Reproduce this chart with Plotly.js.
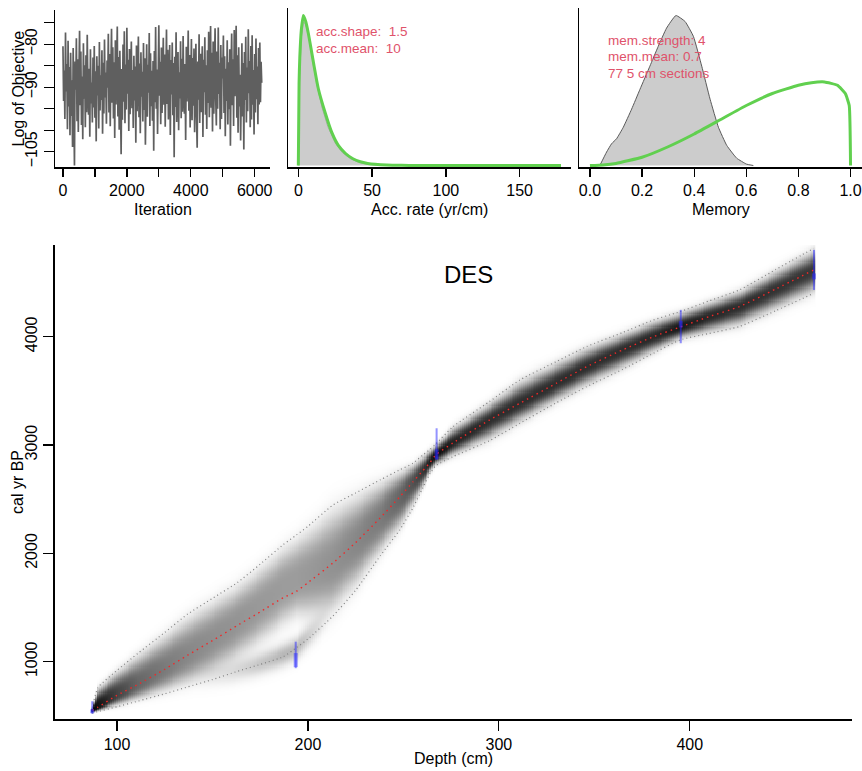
<!DOCTYPE html>
<html><head><meta charset="utf-8">
<script src="https://cdn.plot.ly/plotly-3.0.1.min.js"></script>
<style>html,body{margin:0;padding:0;background:#fff}#chart{width:862px;height:771px}</style>
</head><body><div id="chart"></div>
<script>
// ---------- Panel 1: MCMC trace (log of objective), thinned every 20 iterations ----------
const iterStep = 20;
const logObjective = [
-80.5,-93.2,-86.1,-97.4,-77.3,-91.0,-84.6,-99.8,-79.2,-94.5,
-85.3,-101.2,-82.0,-96.7,-88.4,-103.9,-80.9,-95.1,-108.2,-84.0,
-90.6,-78.6,-97.9,-83.5,-100.4,-86.8,-76.9,-94.2,-81.7,-98.8,
-87.5,-102.1,-79.8,-92.7,-84.9,-99.3,-82.6,-95.8,-77.8,-90.3,
-96.4,-85.7,-101.5,-81.2,-93.8,-88.9,-98.2,-83.1,-94.7,-80.4,
-97.1,-86.3,-102.6,-82.8,-91.9,-85.0,-99.6,-79.5,-95.4,-87.2,
-93.0,-81.4,-100.8,-84.3,-96.1,-78.9,-92.4,-86.6,-98.5,-83.8,
-90.1,-77.6,-95.9,-82.3,-99.1,-85.5,-76.4,-93.6,-80.7,-97.3,
-84.2,-101.8,-79.1,-94.0,-86.9,-75.9,-96.8,-83.0,-99.9,-81.5,
-92.8,-105.6,-85.8,-97.6,-80.1,-93.4,-77.0,-98.4,-84.7,-95.2,
-76.2,-91.5,-83.6,-100.2,-81.1,-96.3,-87.8,-79.4,-94.9,-86.0,
-99.5,-82.7,-93.1,-85.2,-102.9,-80.3,-95.6,-88.1,-78.2,-97.0,
-84.5,-100.7,-81.9,-92.2,-86.4,-98.0,-79.7,-95.3,-83.3,-103.4,
-87.0,-80.0,-96.9,-84.8,-91.3,-77.4,-99.0,-82.1,-94.4,-86.2,
-97.8,-83.9,-104.8,-81.6,-93.5,-76.0,-95.0,-85.9,-100.9,-79.0,
-75.6,-92.0,-84.1,-98.6,-80.8,-96.0,-87.3,-78.5,-94.1,-82.4,
-99.2,-85.4,-76.6,-93.9,-81.3,-97.5,-86.7,-80.2,-101.1,-83.7,
-91.7,-79.6,-96.5,-84.4,-106.3,-82.9,-94.6,-77.2,-98.1,-85.6,
-81.8,-100.0,-86.5,-92.6,-79.3,-97.2,-83.4,-95.7,-78.1,-90.8,
-96.2,-84.6,-102.3,-80.6,-93.3,-87.6,-76.8,-95.5,-82.5,-99.4,
-85.1,-78.8,-97.7,-83.2,-94.3,-81.0,-100.5,-86.1,-79.9,-96.6,
-104.1,-84.0,-92.9,-77.7,-98.3,-82.2,-95.8,-86.4,-80.5,-101.6,
-83.6,-91.2,-78.4,-96.4,-84.9,-99.7,-81.4,-93.7,-77.1,-97.0,
-86.8,-75.8,-94.8,-82.0,-100.3,-79.4,-96.2,-85.3,-76.3,-92.5,
-98.9,-81.7,-95.0,-76.1,-91.6,-84.3,-99.8,-80.2,-97.4,-83.1,
-88.0,-78.0,-96.0,-82.8,-101.4,-85.7,-93.2,-79.1,-98.7,-84.2,
-95.1,-81.2,-103.6,-86.3,-77.5,-94.2,-83.5,-99.0,-76.7,-92.1,
-85.9,-75.7,-97.1,-82.6,-100.6,-80.7,-94.5,-87.1,-102.4,-83.0,
-79.8,-96.8,-84.4,-104.5,-81.8,-93.0,-78.3,-98.2,-85.4,-95.6,
-76.5,-91.4,-83.9,-99.3,-80.4,-97.5,-77.9,-94.1,-86.0,-101.0,
-82.3,-95.9,-78.7,-92.8,-85.2,-98.6,-80.9,-94.0,-79.6,-93.5,
-84.1,-89.0
];
const iterTicks = [0,1000,2000,3000,4000,5000,6000];
const iterTickText = ['0','','2000','','4000','','6000'];
const objTicks = [-75,-80,-85,-90,-95,-100,-105];
const objTickText = ['','\u221280','','\u221290','','','\u2212105'];

// ---------- Panel 2: accumulation rate (prior green, posterior grey) ----------
const accRatePrior = [0,0.5,1,2,3.4,5,6.8,10.2,13.6,18.1,22.6,27.1,32,37,42,47,52,60,70,80,100,125,150,178];
const accPriorDens = [0,0.55,0.72,0.9,1.0,0.96,0.88,0.69,0.51,0.355,0.222,0.134,0.08,0.045,0.025,0.014,0.008,0.003,0.001,0,0,0,0,0];
const accRatePost = [0,1,2,3.5,5,7,10,13,16,20,25,30,35,40,45,50,55];
const accPostDens = [0,0.6,0.85,0.96,0.94,0.86,0.68,0.52,0.39,0.26,0.15,0.085,0.047,0.025,0.012,0.005,0];
const accTicks = [0,50,100,150];

// ---------- Panel 3: memory (prior green, posterior grey) ----------
const memPrior = [0,0.05,0.1,0.2,0.3,0.4,0.5,0.6,0.7,0.8,0.85,0.9,0.95,0.98,0.995,1.0];
const memPriorDens = [0,0.004,0.014,0.055,0.125,0.21,0.305,0.40,0.48,0.535,0.552,0.557,0.535,0.48,0.40,0];
const memPost = [0.038,0.064,0.083,0.102,0.128,0.16,0.192,0.23,0.262,0.294,0.33,0.365,0.397,0.429,0.461,0.493,0.525,0.563,0.601,0.627];
const memPostDens = [0,0.09,0.145,0.178,0.255,0.376,0.508,0.662,0.794,0.916,1.0,0.96,0.861,0.662,0.442,0.255,0.134,0.049,0.009,0];
const memTicks = [0,0.2,0.4,0.6,0.8,1.0];
const memTickText = ['0.0','0.2','0.4','0.6','0.8','1.0'];

// ---------- Main: age-depth model ----------
const modelDepth = [87,90,100,111,125,137,150,163,175,187,194,200,213,225,238,248,255,260,264,267,276,295,311,330,346,365,381,395,410,426,445,465];
const meanAge   = [550,580,690,790,930,1060,1195,1335,1460,1590,1650,1730,1910,2100,2330,2520,2660,2760,2840,2910,3020,3230,3386,3570,3724,3880,4001,4090,4185,4278,4440,4617];
const upperAge  = [575,760,920,1078,1270,1440,1585,1730,1900,2080,2170,2250,2445,2558,2680,2770,2832,2905,2960,3010,3170,3400,3601,3770,3909,4040,4155,4232,4330,4432,4620,4817];
const lowerAge  = [525,540,584,636,704,767,835,911,975,1045,1130,1210,1420,1660,1980,2215,2420,2600,2740,2810,2893,3040,3201,3390,3539,3700,3848,3971,4030,4094,4240,4401];
const darkness  = [1.0,0.93,0.74,0.6,0.52,0.47,0.44,0.42,0.40,0.39,0.39,0.40,0.43,0.47,0.52,0.6,0.68,0.78,0.88,0.95,0.86,0.82,0.82,0.82,0.82,0.82,0.84,0.9,0.84,0.82,0.8,0.78];
const profilePow = [3,3,3,3,3,3,3,3,3,3,3,3,3,3,3,3,2.9,2.7,2.5,2.4,2.4,2.4,2.4,2.4,2.4,2.4,2.4,2.4,2.4,2.4,2.4,2.4];
const profileDiv = [1.6,1.6,1.6,1.6,1.6,1.6,1.6,1.6,1.6,1.6,1.6,1.6,1.6,1.6,1.6,1.6,1.65,1.7,1.75,1.8,1.8,1.8,1.8,1.8,1.8,1.8,1.8,1.8,1.8,1.8,1.8,1.8];
// secondary (younger) mode near the 193 cm date
const altDepth  = [140,160,175,187,194,201,212];
const altAge    = [820,900,980,1060,1120,1250,1440];
const altDark   = [0,0.12,0.22,0.28,0.28,0.18,0];
const altSd     = [70,70,70,70,70,75,80];
const mainShift = [0,20,60,100,110,70,0];
const lowShrink = [1,0.85,0.7,0.6,0.6,0.75,1];
// dated levels (calibrated ranges)
const dateDepth = [87,193.6,267.4,395.3,465.1];
const dateMin   = [520,940,2862,3940,4432];
const dateMax   = [635,1185,3155,4248,4802];
const densMin   = [525,950,2870,4085,4530];
const densMax   = [560,1080,2960,4145,4585];
const depthTicks = [100,200,300,400];
const ageTicks = [1000,2000,3000,4000];

// ---------- helpers ----------
const W = 862, H = 771;
const FONT = 'Liberation Sans, Arimo, Arial, sans-serif';
const px = v => v / W;
const py = v => 1 - v / H;
function interp(xs, ys, x) {
  if (x <= xs[0]) return ys[0];
  const n = xs.length;
  if (x >= xs[n-1]) return ys[n-1];
  for (let i = 1; i < n; i++) {
    if (x <= xs[i]) { const t = (x - xs[i-1]) / (xs[i] - xs[i-1]); return ys[i-1] + t * (ys[i] - ys[i-1]); }
  }
}

// grey-scale grid built from the model arrays
const gridX = [], gridY = [], gridZ = [];
for (let d = modelDepth[0]; d <= modelDepth[modelDepth.length-1]; d += 1) gridX.push(d);
for (let a = 450; a <= 4900; a += 10) gridY.push(a);
for (let j = 0; j < gridY.length; j++) {
  const a = gridY[j], row = [];
  for (let i = 0; i < gridX.length; i++) {
    const d = gridX[i];
    const m = interp(modelDepth, meanAge, d) + interp(altDepth, mainShift, d);
    const up = interp(modelDepth, upperAge, d), lo = interp(modelDepth, lowerAge, d);
    const dk = interp(modelDepth, darkness, d);
    const pw = interp(modelDepth, profilePow, d), dv = interp(modelDepth, profileDiv, d);
    const sUp = Math.max((up - m) / dv, 8);
    const sLo = Math.max((m - lo) / dv * interp(altDepth, lowShrink, d), 8);
    const t = a >= m ? (a - m) / sUp : (m - a) / sLo;
    let z = dk * Math.exp(-0.5 * Math.pow(t, pw));
    const c2 = interp(altDepth, altAge, d), s2 = interp(altDepth, altSd, d), dk2 = interp(altDepth, altDark, d);
    z += dk2 * Math.exp(-0.5 * Math.pow((a - c2) / s2, 2));
    row.push(Math.min(1, z));
  }
  gridZ.push(row);
}

const iterX = logObjective.map((_, i) => i * iterStep);
const dX = [], dY = [], dXs = [], dYs = [];
dateDepth.forEach((d, i) => {
  dX.push(d, d, null); dY.push(dateMin[i], dateMax[i], null);
  dXs.push(d, d, null); dYs.push(densMin[i], densMax[i], null);
});

const GREEN = '#61D04F', RED = '#DF536B';
const traces = [
  {x: iterX, y: logObjective, xaxis: 'x', yaxis: 'y', mode: 'lines', line: {color: 'rgb(95,95,95)', width: 1.7}, hoverinfo: 'skip'},
  {x: accRatePost, y: accPostDens, xaxis: 'x2', yaxis: 'y2', mode: 'lines', fill: 'tozeroy', fillcolor: 'rgb(204,204,204)', line: {color: 'rgb(150,150,150)', width: 0.8}, hoverinfo: 'skip'},
  {x: accRatePrior, y: accPriorDens, xaxis: 'x2', yaxis: 'y2', mode: 'lines', line: {color: GREEN, width: 3, shape: 'spline', smoothing: 0.6}, hoverinfo: 'skip'},
  {x: memPost, y: memPostDens, xaxis: 'x3', yaxis: 'y3', mode: 'lines', fill: 'tozeroy', fillcolor: 'rgb(204,204,204)', line: {color: 'rgb(90,90,90)', width: 1, shape: 'spline', smoothing: 0.4}, hoverinfo: 'skip'},
  {x: memPrior, y: memPriorDens, xaxis: 'x3', yaxis: 'y3', mode: 'lines', line: {color: GREEN, width: 3, shape: 'spline', smoothing: 0.4}, hoverinfo: 'skip'},
  {type: 'heatmap', x: gridX, y: gridY, z: gridZ, xaxis: 'x4', yaxis: 'y4', zmin: 0, zmax: 1,
   colorscale: [[0, 'rgb(255,255,255)'], [1, 'rgb(0,0,0)']], showscale: false, hoverinfo: 'skip'},
  {x: modelDepth, y: upperAge, xaxis: 'x4', yaxis: 'y4', mode: 'lines', line: {color: 'rgb(130,130,130)', width: 1.2, dash: '1px,3px', shape: 'spline', smoothing: 0.5}, hoverinfo: 'skip'},
  {x: modelDepth, y: lowerAge, xaxis: 'x4', yaxis: 'y4', mode: 'lines', line: {color: 'rgb(130,130,130)', width: 1.2, dash: '1px,3px', shape: 'spline', smoothing: 0.5}, hoverinfo: 'skip'},
  {x: modelDepth, y: meanAge, xaxis: 'x4', yaxis: 'y4', mode: 'lines', line: {color: 'rgb(240,40,40)', width: 1.4, dash: '1.5px,4px', shape: 'spline', smoothing: 0.5}, hoverinfo: 'skip'},
  {x: dX, y: dY, xaxis: 'x4', yaxis: 'y4', mode: 'lines', line: {color: 'rgba(40,40,255,0.5)', width: 2}, hoverinfo: 'skip'},
  {x: dXs, y: dYs, xaxis: 'x4', yaxis: 'y4', mode: 'lines', line: {color: 'rgba(40,40,255,0.45)', width: 4}, hoverinfo: 'skip'}
];

function ax(domain, range, extra) {
  return Object.assign({domain, range, showline: true, linecolor: '#000', linewidth: 1.5,
    ticks: 'outside', ticklen: 10, tickwidth: 1.3, tickcolor: '#000', showgrid: false, zeroline: false,
    fixedrange: true, tickfont: {family: FONT, size: 16, color: '#000'}}, extra);
}
const noTicks = {ticks: '', showticklabels: false};

function txt(text, x, y, size, opts) {
  return Object.assign({text, x: px(x), y: py(y), xref: 'paper', yref: 'paper', showarrow: false,
    font: {family: FONT, size, color: '#000'}, xanchor: 'center', yanchor: 'middle'}, opts || {});
}
const redFont = {family: FONT, size: 13.5, color: RED};

const layout = {
  width: W, height: H, margin: {l: 0, r: 0, t: 0, b: 0}, showlegend: false,
  paper_bgcolor: '#fff', plot_bgcolor: '#fff',
  xaxis:  ax([px(55), px(270)], [-249, 6479], {anchor: 'y', tickvals: iterTicks, ticktext: iterTickText, ticklen: 8}),
  yaxis:  ax([py(167), py(10)], [-108.56, -72.05], {anchor: 'x', tickvals: objTicks, ticktext: objTickText, tickangle: -90}),
  xaxis2: ax([px(288), px(571)], [-7, 184.8], {anchor: 'y2', tickvals: accTicks, ticklen: 8}),
  yaxis2: ax([py(167), py(8)], [-0.01, 1.05], Object.assign({anchor: 'x2'}, noTicks)),
  xaxis3: ax([px(579), 1], [-0.042, 1.044], {anchor: 'y3', tickvals: memTicks, ticktext: memTickText, ticklen: 8}),
  yaxis3: ax([py(167), py(8)], [-0.01, 1.05], Object.assign({anchor: 'x3'}, noTicks)),
  xaxis4: ax([px(55), px(852)], [67.5, 485], {anchor: 'y4', tickvals: depthTicks, linewidth: 2}),
  yaxis4: ax([py(719), py(245)], [471, 4847], {anchor: 'x4', tickvals: ageTicks, tickangle: -90, linewidth: 2}),
  annotations: [
    txt('Log of Objective', 18, 88.5, 16, {textangle: -90}),
    txt('Iteration', 162.5, 210, 16),
    txt('Acc. rate (yr/cm)', 429.5, 210, 16),
    txt('Memory', 720.5, 210, 16),
    txt('acc.shape:\u00a0 1.5', 314, 31.5, 13.5, {xanchor: 'left', font: redFont}),
    txt('acc.mean:\u00a0 10', 314, 48.3, 13.5, {xanchor: 'left', font: redFont}),
    txt('mem.strength: 4', 605.7, 40, 13.5, {xanchor: 'left', font: redFont}),
    txt('mem.mean: 0.7', 605.7, 56.7, 13.5, {xanchor: 'left', font: redFont}),
    txt('77 5 cm sections', 605.7, 73.3, 13.5, {xanchor: 'left', font: redFont}),
    txt('DES', 468.7, 274.7, 24),
    txt('cal yr BP', 17, 482, 16, {textangle: -90}),
    txt('Depth (cm)', 453, 758, 16)
  ]
};

Plotly.newPlot('chart', traces, layout, {staticPlot: true, displayModeBar: false});
</script></body></html>
